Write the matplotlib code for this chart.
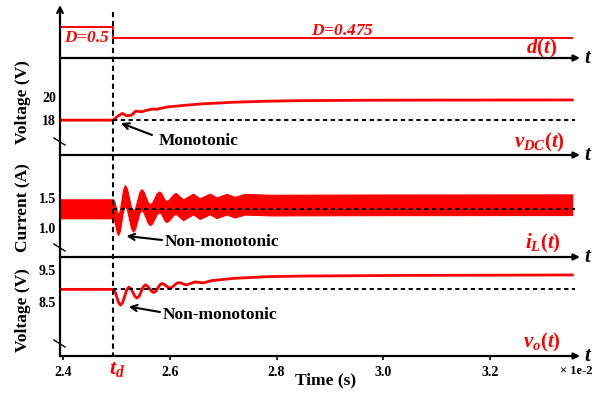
import matplotlib
matplotlib.use('Agg')
import numpy as np
import matplotlib.pyplot as plt
from matplotlib.lines import Line2D
from matplotlib.transforms import blended_transform_factory

plt.rcParams['font.family'] = ['Liberation Serif', 'DejaVu Serif']
plt.rcParams['font.weight'] = 'bold'
plt.rcParams['mathtext.fontset'] = 'custom'
plt.rcParams['mathtext.rm'] = 'Liberation Serif:bold'
plt.rcParams['mathtext.it'] = 'Liberation Serif:italic:bold'
plt.rcParams['mathtext.bf'] = 'Liberation Serif:bold'

# time axis in units of 1e-2 s
t_start = 2.3938
t_d = 2.4935
t_end = 3.355
t_ref_end = 3.36
x_ticks = [2.4, 2.6, 2.8, 3.0, 3.2]

# duty cycle step
duty_t = [t_start, t_d, t_d, t_end]
duty = [0.5, 0.5, 0.475, 0.475]

# DC link voltage (monotonic rise)
vdc_t = [t_start, 2.4935, 2.503, 2.511, 2.519, 2.528, 2.536, 2.547, 2.556,
         2.568, 2.575, 2.594, 2.619, 2.656, 2.718, 2.782, 2.844, 3.0, 3.355]
vdc = [18.0, 18.0, 18.37, 18.58, 18.37, 18.43, 18.78, 18.72, 18.84,
       18.96, 18.93, 19.13, 19.24, 19.39, 19.54, 19.63, 19.68, 19.72, 19.74]
vdc_ref = 18.0

# inductor current: centre of the ripple band and its half thickness
il_t = [t_start, 2.4935, 2.4959, 2.5006, 2.503, 2.5061, 2.5124, 2.5155,
        2.5194, 2.5271, 2.531, 2.5349, 2.5428, 2.5467, 2.5506, 2.5584,
        2.5623, 2.5667, 2.5753, 2.5797, 2.5832, 2.5901, 2.5936, 2.598,
        2.6067, 2.611, 2.6248, 2.6435, 2.656, 2.6749, 2.6874, 2.7062,
        2.7218, 2.74, 2.79, 2.844, 3.0, 3.355]
il_mid = [1.322, 1.322, 1.28, 1.09, 1.05, 1.12, 1.48, 1.55,
          1.49, 1.17, 1.11, 1.16, 1.43, 1.48, 1.44, 1.26,
          1.22, 1.25, 1.41, 1.44, 1.42, 1.30, 1.275, 1.30,
          1.395, 1.415, 1.305, 1.405, 1.325, 1.405, 1.34, 1.40,
          1.35, 1.40, 1.385, 1.387, 1.39, 1.392]
il_half = [0.162, 0.162, 0.17, 0.175, 0.175, 0.178, 0.178, 0.178,
           0.178, 0.178, 0.178, 0.178, 0.178, 0.178, 0.178, 0.178,
           0.178, 0.178, 0.178, 0.178, 0.178, 0.178, 0.178, 0.178,
           0.178, 0.178, 0.176, 0.176, 0.176, 0.176, 0.176, 0.176,
           0.176, 0.176, 0.176, 0.176, 0.176, 0.176]
il_ref = 1.32

# output voltage (non-monotonic)
vo_t = [t_start, 2.4935, 2.497, 2.504, 2.5074, 2.5113, 2.5191, 2.523,
        2.5269, 2.5346, 2.5385, 2.5424, 2.5501, 2.554, 2.5579, 2.5657,
        2.5696, 2.5735, 2.5812, 2.585, 2.5889, 2.5967, 2.6006, 2.6045,
        2.6122, 2.616, 2.6199, 2.6278, 2.6317, 2.647, 2.6628, 2.678,
        2.72, 2.78, 2.844, 3.03, 3.355]
vo = [8.90, 8.90, 8.83, 8.48, 8.41, 8.49, 8.89, 8.97,
      8.92, 8.68, 8.63, 8.69, 8.98, 9.04, 9.00, 8.84,
      8.80, 8.84, 9.04, 9.08, 9.06, 8.96, 8.94, 8.97,
      9.08, 9.11, 9.10, 9.05, 9.04, 9.13, 9.10, 9.17,
      9.24, 9.29, 9.31, 9.33, 9.345]
vo_ref = 8.90

RED = '#ff0000'
W, H = 611, 394


def fx(px):
    return px / W


def fy(py):
    return 1 - py / H


fig = plt.figure(figsize=(6.11, 3.94), dpi=100)
left, right = 60, 580
panels = [(5, 58), (58, 155), (155, 257), (257, 356)]
axes = []
for top, bot in panels:
    ax = fig.add_axes([fx(left), fy(bot), fx(right - left), (bot - top) / H])
    ax.set_xlim(t_start, t_start + (right - left) / 533.0)
    for s in ['top', 'right', 'bottom']:
        ax.spines[s].set_visible(False)
    ax.spines['left'].set_linewidth(1.6)
    ax.patch.set_alpha(0)
    ax.set_xticks([])
    ax.tick_params(axis='y', length=0, pad=3, labelsize=10)
    # time axis arrow
    ax.annotate('', xy=(1, 0), xytext=(0, 0), xycoords='axes fraction',
                arrowprops=dict(arrowstyle='-|>', lw=1.6, color='k',
                                mutation_scale=9, shrinkA=0, shrinkB=0),
                annotation_clip=False)
    ax.text(1.016, 0, '$t$', transform=ax.transAxes, ha='center',
            va='center', fontsize=15, color='k')
    axes.append(ax)

ax_d, ax_v, ax_i, ax_o = axes

# d(t)
ax_d.spines['left'].set_visible(False)
ax_d.set_ylim(0.4295, 0.55)
ax_d.set_yticks([])
ax_d.annotate('', xy=(0, 1), xytext=(0, 0), xycoords='axes fraction',
              arrowprops=dict(arrowstyle='->', lw=1.6, color='k',
                              mutation_scale=10, shrinkA=0, shrinkB=0),
              annotation_clip=False)
ax_d.plot(duty_t, duty, color=RED, lw=1.4)
fig.text(fx(87), fy(38), '$D$=0.5', color=RED, fontsize=12.5,
         fontstyle='italic', ha='center', va='center')
fig.text(fx(343), fy(31), '$D$=0.475', color=RED, fontsize=12.5,
         fontstyle='italic', ha='center', va='center')
fig.text(fx(542), fy(48), '$d(t)$', color=RED, fontsize=15,
         ha='center', va='center')

# v_DC(t)
ax_v.set_ylim(15.0, 23.35)
ax_v.set_yticks([18, 20])
ax_v.plot(vdc_t, vdc, color=RED, lw=2, solid_joinstyle='round')
ax_v.hlines(vdc_ref, t_d, t_ref_end, colors='k', lw=1.4,
            linestyles=(0, (2.2, 1.8)))
fig.text(fx(539), fy(142), '$v_{DC}(t)$', color=RED, fontsize=15,
         ha='center', va='center')

# i_L(t)
il_mid_a = np.array(il_mid)
il_half_a = np.array(il_half)
ax_i.set_ylim(0.50, 2.24)
ax_i.set_yticks([1.0, 1.5])
ax_i.set_yticklabels(['1.0', '1.5'])
ax_i.fill_between(il_t, il_mid_a - il_half_a, il_mid_a + il_half_a,
                  color=RED, lw=0.8, edgecolor=RED)
ax_i.hlines(il_ref, t_d, t_ref_end, colors='k', lw=1.4,
            linestyles=(0, (2.2, 1.8)))
fig.text(fx(543), fy(243), '$i_L(t)$', color=RED, fontsize=15,
         ha='center', va='center')

# v_o(t)
ax_o.set_ylim(6.84, 9.90)
ax_o.set_yticks([8.5, 9.5])
ax_o.set_yticklabels(['8.5', '9.5'])
ax_o.plot(vo_t, vo, color=RED, lw=2, solid_joinstyle='round')
ax_o.hlines(vo_ref, t_d, t_ref_end, colors='k', lw=1.4,
            linestyles=(0, (2.2, 1.8)))
fig.text(fx(542), fy(342), '$v_o(t)$', color=RED, fontsize=15,
         ha='center', va='center')
ax_o.set_xticks(x_ticks)
ax_o.set_xticklabels(['%.1f' % v for v in x_ticks])
ax_o.tick_params(axis='x', direction='out', length=3, width=1.2,
                 pad=4, labelsize=10)

# axis-break marks on the left spine
for ax, (y0, y1), (top, bot) in [(ax_v, (138, 145), panels[1]),
                                 (ax_i, (244, 251), panels[2]),
                                 (ax_o, (340, 347), panels[3])]:
    h = bot - top
    ax.plot([-6 / 520, 5 / 520], [(bot - y0) / h, (bot - y1) / h],
            transform=ax.transAxes, color='k', lw=1.0, clip_on=False)

# vertical t_d marker across all panels
trans = blended_transform_factory(ax_o.transData, fig.transFigure)
fig.add_artist(Line2D([t_d, t_d], [fy(12), fy(356)], transform=trans,
                      color='k', lw=1.5, linestyle=(0, (2.5, 1.8)),
                      zorder=5))

# annotations
arrow_kw = dict(arrowstyle='->', lw=1.5, color='k', mutation_scale=11,
                shrinkA=0, shrinkB=6)
ax_v.annotate('', xy=(vdc_t[1], vdc[1]), xytext=(fx(152), fy(135)),
              textcoords='figure fraction', arrowprops=arrow_kw)
fig.text(fx(159), fy(141), 'Monotonic', fontsize=12.5, ha='left', va='center')
ax_i.annotate('', xy=(il_t[4], il_mid[4] - il_half[4]),
              xytext=(fx(162), fy(240)),
              textcoords='figure fraction', arrowprops=arrow_kw)
fig.text(fx(165), fy(242), 'Non-monotonic', fontsize=12.5, ha='left',
         va='center')
ax_o.annotate('', xy=(vo_t[4], vo[4]), xytext=(fx(160), fy(312)),
              textcoords='figure fraction', arrowprops=arrow_kw)
fig.text(fx(163), fy(315), 'Non-monotonic', fontsize=12.5, ha='left',
         va='center')

# axis labels
fig.text(fx(23), fy(102), 'Voltage (V)', rotation=90, fontsize=12.5,
         ha='center', va='center')
fig.text(fx(23), fy(208), 'Current (A)', rotation=90, fontsize=12.5,
         ha='center', va='center')
fig.text(fx(23), fy(310), 'Voltage (V)', rotation=90, fontsize=12.5,
         ha='center', va='center')
fig.text(fx(326), fy(380), 'Time (s)', fontsize=12.5, ha='center', va='center')
fig.text(fx(576), fy(371), '\u00d7 1e-2', fontsize=9, ha='center',
         va='center')
fig.text(fx(117), fy(369), '$t_d$', color=RED, fontsize=16,
         ha='center', va='center')

fig.savefig('out.png', dpi=100)
